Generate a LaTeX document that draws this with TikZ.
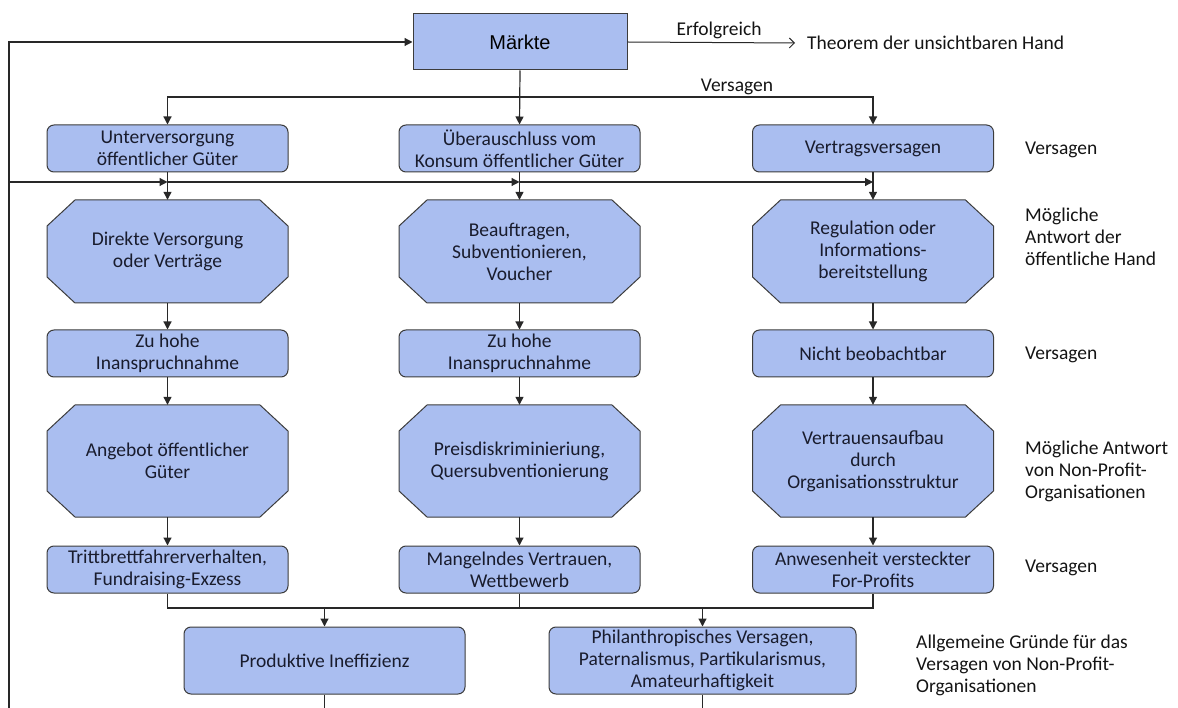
\documentclass[tikz,border=0pt]{standalone}
\usepackage{fontspec}
\setmainfont{Carlito}
\newfontfamily\arialfont{Liberation Sans}
\usetikzlibrary{arrows.meta}
\definecolor{boxfill}{RGB}{170,190,240}
\definecolor{boxline}{RGB}{60,60,60}
\definecolor{connline}{RGB}{40,40,40}
\definecolor{txt}{RGB}{25,28,45}

% octagonal step: name, x, y, width, height, text
\newcommand\octnode[6]{%
  \filldraw[fill=boxfill, draw=boxline, line width=1pt]
    ({#2-#4/2+28},{#3-#5/2}) -- ({#2+#4/2-28},{#3-#5/2})
    -- ({#2+#4/2},{#3-#5/2+26}) -- ({#2+#4/2},{#3+#5/2-26})
    -- ({#2+#4/2-28},{#3+#5/2}) -- ({#2-#4/2+28},{#3+#5/2})
    -- ({#2-#4/2},{#3+#5/2-26}) -- ({#2-#4/2},{#3-#5/2+26}) -- cycle;
  \node[minimum width=#4pt, minimum height=#5pt, inner sep=0pt, align=center] (#1) at (#2,#3) {#6};
}

\begin{document}
\begin{tikzpicture}[x=1pt, y=-1pt,
  every node/.style={font=\fontsize{19.5}{22}\selectfont, text=txt},
  rbox/.style={draw=boxline, fill=boxfill, line width=1pt, rounded corners=7pt,
    minimum width=241pt, minimum height=47pt, inner sep=0pt, align=center},
  widebox/.style={rbox, minimum height=67pt},
  marketbox/.style={draw=boxline, fill=boxfill, line width=1pt,
    minimum width=214pt, minimum height=56pt, inner sep=0pt,
    font=\arialfont\fontsize{20}{24}\selectfont, text=black},
  conn/.style={draw=connline, line width=1.2pt},
  arr/.style={conn, -{Triangle[length=8pt,width=8pt]}},
  openarr/.style={conn, line width=1pt, -{Straight Barb[length=5pt,width=10pt]}},
  side/.style={anchor=west, align=left, inner sep=0pt, text=black!92},
  plain/.style={inner sep=0pt, text=black!92},
]
\useasboundingbox (0,0) rectangle (1178,708);

% top: markets
\node[marketbox] (mk) at (520,42) {Märkte};
\node[plain, anchor=west, inner xsep=12pt] (thm) at (795,43) {Theorem der unsichtbaren Hand};
\node[plain] (erf) at (719,30) {Erfolgreich};
\node[plain] (vers) at (737,87) {Versagen};

% first failure row
\node[rbox] (a1) at (167.5,148.5) {Unterversorgung\\öffentlicher Güter};
\node[rbox] (a2) at (519.5,148.5) {Überauschluss vom\\Konsum öffentlicher Güter};
\node[rbox] (a3) at (873,148.5) {Vertragsversagen};

% public responses
\octnode{b1}{167.5}{251.5}{241}{103}{Direkte Versorgung\\oder Verträge}
\octnode{b2}{519.5}{251.5}{241}{103}{Beauftragen,\\Subventionieren,\\Voucher}
\octnode{b3}{873}{251.5}{241}{103}{Regulation oder\\Informations-\\bereitstellung}

% second failure row
\node[rbox] (c1) at (167.5,353.5) {Zu hohe\\Inanspruchnahme};
\node[rbox] (c2) at (519.5,353.5) {Zu hohe\\Inanspruchnahme};
\node[rbox] (c3) at (873,353.5) {Nicht beobachtbar};

% non-profit responses
\octnode{d1}{167.5}{461}{241}{112}{Angebot öffentlicher\\Güter}
\octnode{d2}{519.5}{461}{241}{112}{Preisdiskriminieriung,\\Quersubventionierung}
\octnode{d3}{873}{461}{241}{112}{Vertrauensaufbau\\durch\\Organisationsstruktur}

% third failure row
\node[rbox] (e1) at (167.5,569.5) {Trittbrettfahrerverhalten,\\Fundraising-Exzess};
\node[rbox] (e2) at (519.5,569.5) {Mangelndes Vertrauen,\\Wettbewerb};
\node[rbox] (e3) at (873,569.5) {Anwesenheit versteckter\\For-Profits};

% general failures
\node[widebox, minimum width=281pt] (f1) at (324.5,660.5) {Produktive Ineffizienz};
\node[widebox, minimum width=307pt] (f2) at (702.5,660.5) {Philanthropisches Versagen,\\Paternalismus, Partikularismus,\\Amateurhaftigkeit};

% side labels
\node[side] (s1) at (1025,150) {Versagen};
\node[side] (s2) at (1025,237) {Mögliche\\Antwort der\\öffentliche Hand};
\node[side] (s3) at (1025,355) {Versagen};
\node[side] (s4) at (1025,471) {Mögliche Antwort\\von Non-Profit-\\Organisationen};
\node[side] (s5) at (1025,568) {Versagen};
\node[side] (s6) at (916,665) {Allgemeine Gründe für das\\Versagen von Non-Profit-\\Organisationen};

% helper points
\coordinate (lb) at (9,708);
\coordinate (lt) at (9,42);
\coordinate (lm) at (9,182);
\coordinate (vs) at (519.5,97);
\coordinate (jn) at (0,608);

% connectors from the markets box
\draw[openarr] (mk.east) -- (thm.west);
\draw[arr] (mk.south) -- (a2.north);
\draw[arr] (vs) -| (a1.north);
\draw[arr] (vs) -| (a3.north);

% feedback loop on the left
\draw[arr] (lb) -- (lt) -- (mk.west);
\draw[arr] (lm) -- (a1.south |- lm);
\draw[arr] (a1.south |- lm) -- (a2.south |- lm);
\draw[arr] (a2.south |- lm) -- (a3.south |- lm);

% column flow
\foreach \col in {1,2,3}{
  \draw[arr] (a\col.south) -- (b\col.north);
  \draw[arr] (b\col.north |- b\col.south) -- (c\col.north);
  \draw[arr] (c\col.south) -- (d\col.north);
  \draw[arr] (d\col.north |- d\col.south) -- (e\col.north);
}

% merging into the general failures
\draw[conn] (e1.south) -- (e1.south |- jn) -- (e3.south |- jn) -- (e3.south);
\draw[conn] (e2.south) -- (e2.south |- jn);
\draw[arr] (f1.north |- jn) -- (f1.north);
\draw[arr] (f2.north |- jn) -- (f2.north);
\draw[conn] (f1.south) -- (f1.south |- lb);
\draw[conn] (f2.south) -- (f2.south |- lb);
\end{tikzpicture}
\end{document}
